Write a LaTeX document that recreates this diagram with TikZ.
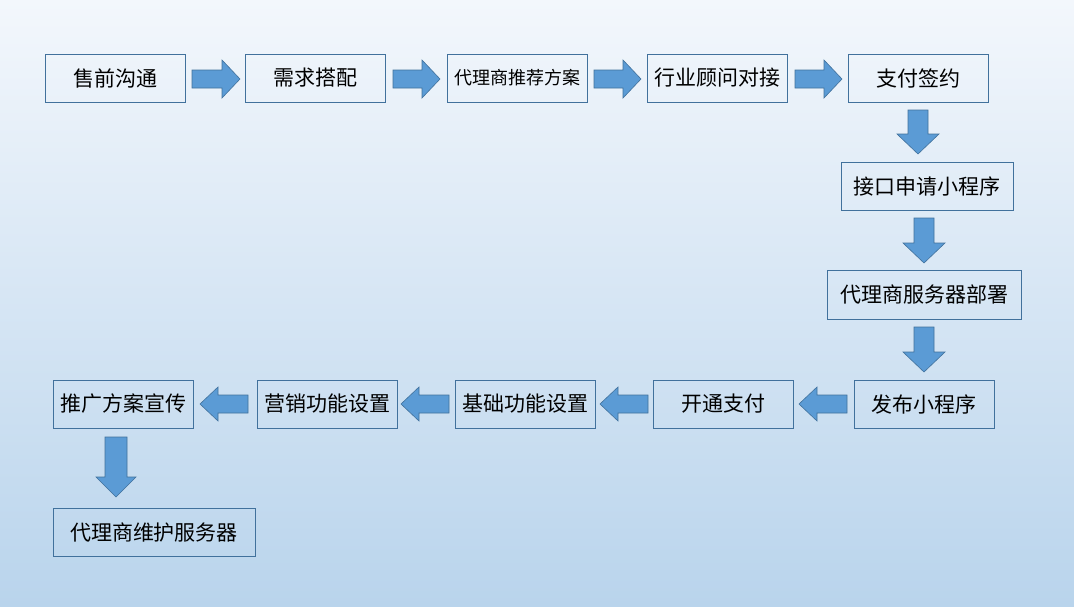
\documentclass[tikz,border=0pt]{standalone}
\usepackage{fontspec}
\newfontfamily\cjk{Noto Sans CJK SC}
\definecolor{bord}{HTML}{41719C}
\definecolor{afill}{HTML}{5B9BD5}
\definecolor{bgtop}{HTML}{F3F7FC}
\definecolor{bgbot}{HTML}{B9D4EC}
\tikzset{
 box/.style={draw=bord,line width=0.9pt,inner sep=0pt,font=\cjk\fontsize{21}{24}\selectfont},
 arr/.style={draw=bord,fill=afill,line width=0.6pt,line join=miter}
}
% horizontal arrow: #1 tail x, #2 tip x, #3 y, #4 shaft half, #5 head half, #6 head length
\newcommand\harr[6]{\draw[arr] (#1,#3-#4) -- (#2-#6,#3-#4) -- (#2-#6,#3-#5) -- (#2,#3) -- (#2-#6,#3+#5) -- (#2-#6,#3+#4) -- (#1,#3+#4) -- cycle;}
\newcommand\larr[6]{\draw[arr] (#1,#3-#4) -- (#2+#6,#3-#4) -- (#2+#6,#3-#5) -- (#2,#3) -- (#2+#6,#3+#5) -- (#2+#6,#3+#4) -- (#1,#3+#4) -- cycle;}
\newcommand\darr[6]{\draw[arr] (#3-#4,#1) -- (#3-#4,#2-#6) -- (#3-#5,#2-#6) -- (#3,#2) -- (#3+#5,#2-#6) -- (#3+#4,#2-#6) -- (#3+#4,#1) -- cycle;}
\begin{document}
\begin{tikzpicture}[x=1pt,y=-1pt]
\shade[top color=bgtop,bottom color=bgbot] (0,0) rectangle (1074,606);
\useasboundingbox (0,0) rectangle (1074,606);
\newcommand\bx[6]{\node[box,minimum width=#4-#2,minimum height=#5-#3] (#1) at ({(#2+#4)/2},{(#3+#5)/2}) {#6};}
\bx{b1}{45}{54}{185}{102}{售前沟通}
\bx{b2}{245}{54}{385}{102}{需求搭配}
\node[box,minimum width=140,minimum height=48,font=\cjk\fontsize{18}{20}\selectfont] (b3) at (517,78) {代理商推荐方案};
\bx{b4}{647}{54}{787}{102}{行业顾问对接}
\bx{b5}{848}{54}{988}{102}{支付签约}
\bx{b6}{841}{162}{1013}{210}{接口申请小程序}
\bx{b7}{827}{270}{1021}{319}{代理商服务器部署}
\bx{b8}{854}{380}{994}{428}{发布小程序}
\bx{b9}{653}{380}{793}{428}{开通支付}
\bx{b10}{455}{380}{595}{428}{基础功能设置}
\bx{b11}{257}{380}{397}{428}{营销功能设置}
\bx{b12}{53}{380}{193}{428}{推广方案宣传}
\bx{b13}{53}{508}{255}{556}{代理商维护服务器}
\harr{192}{240}{79}{9}{19}{18}
\harr{393}{440}{79}{9}{19}{18}
\harr{594}{641}{79}{9}{19}{18}
\harr{795}{842}{79}{9}{19}{18}
\darr{110}{154}{918}{10}{21}{20}
\darr{218}{263}{924}{10}{21}{20}
\darr{327}{372}{924}{10}{21}{20}
\larr{847}{799}{404}{9}{17}{18}
\larr{648}{600}{404}{9}{17}{18}
\larr{449}{401}{404}{9}{17}{18}
\larr{248}{200}{404}{9}{17}{18}
\darr{437}{497}{116}{11}{20}{20}
\end{tikzpicture}
\end{document}
